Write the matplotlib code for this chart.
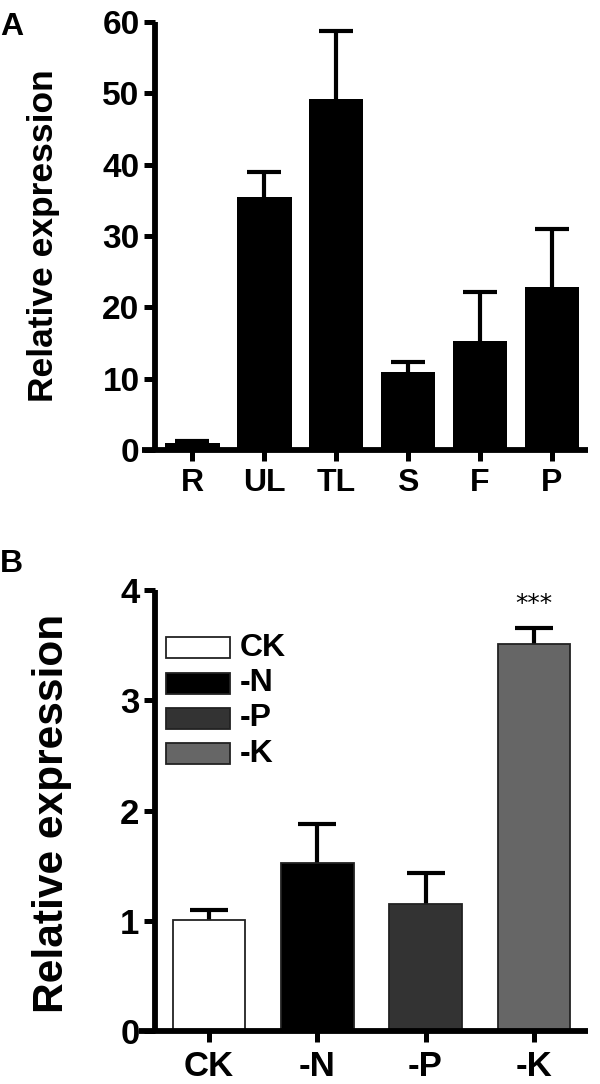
import numpy as np
import matplotlib.pyplot as plt
from matplotlib.patches import Rectangle

plt.rcParams['font.family'] = ['Liberation Sans', 'DejaVu Sans']
plt.rcParams['font.weight'] = 'bold'

# Panel A data
tissues = ['R', 'UL', 'TL', 'S', 'F', 'P']
tissueMean = [1.0, 35.5, 49.2, 11.0, 15.3, 22.8]
tissueErr = [0.3, 3.5, 9.6, 1.4, 6.9, 8.2]

# Panel B data
treatments = ['CK', '-N', '-P', '-K']
treatMean = [1.01, 1.52, 1.15, 3.51]
treatErr = [0.09, 0.355, 0.28, 0.15]
treatColors = ['white', 'black', '#333333', '#666666']

lw = 4.2

def styleAxes(ax, xlab_size, ylab_size, xpad):
    for side in ['top', 'right']:
        ax.spines[side].set_visible(False)
    for side in ['left', 'bottom']:
        ax.spines[side].set_linewidth(lw)
        ax.spines[side].set_capstyle('butt')
    ax.tick_params(axis='both', width=3.6, length=8, direction='out', pad=3)
    ax.tick_params(axis='x', labelsize=xlab_size, pad=xpad)
    ax.tick_params(axis='y', labelsize=ylab_size)
    for lab in ax.get_xticklabels() + ax.get_yticklabels():
        lab.set_fontweight('bold')

def upperErr(ax, x, mean, err, capsize):
    # only the upper half of the error bar, lower cap dropped
    eb = ax.errorbar(x, mean, yerr=[np.zeros(len(x)), err], fmt='none',
                     ecolor='black', elinewidth=3, capsize=capsize, capthick=3, zorder=1)
    eb[1][0].remove()
    return eb

fig = plt.figure(figsize=(6, 10.84), dpi=100)

# Panel A
axA = fig.add_axes([0.258, 0.5849, 0.722, 0.3948])
x = np.arange(len(tissues))
upperErr(axA, x, tissueMean, tissueErr, 12)
axA.bar(x, tissueMean, width=0.76, color='black', zorder=2)
axA.set_xlim(-0.52, 5.5)
axA.set_ylim(0, 60)
axA.set_yticks(np.arange(0, 61, 10))
axA.set_xticks(x)
axA.set_xticklabels(tissues)
axA.spines['bottom'].set_bounds(-0.52 - 13 / 72, 5.5)
axA.set_ylabel('Relative expression', fontsize=25.5, fontweight='bold')
axA.yaxis.set_label_coords(-0.219, 0.5)
styleAxes(axA, 23, 24, 5)
fig.text(0.0, 0.9677, 'A', fontsize=23, fontweight='bold')

# Panel B
axB = fig.add_axes([0.258, 0.0489, 0.722, 0.4068])
x2 = np.arange(len(treatments))
upperErr(axB, x2, treatMean, treatErr, 14)
axB.bar(x2, treatMean, width=0.67, color=treatColors, edgecolor='#222222',
        linewidth=1.3, zorder=2)
axB.text(x2[3], treatMean[3] + treatErr[3] + 0.1, '***', ha='center', va='bottom',
         fontsize=18, fontweight='normal', family='DejaVu Sans')
axB.set_xlim(-0.5, 3.5)
axB.set_ylim(0, 4)
axB.set_yticks(np.arange(0, 5, 1))
axB.set_xticks(x2)
axB.set_xticklabels(treatments)
axB.spines['bottom'].set_bounds(-0.5 - 16 / 110, 3.5)
axB.set_ylabel('Relative expression', fontsize=30.5, fontweight='bold')
axB.yaxis.set_label_coords(-0.19, 0.494)
styleAxes(axB, 25, 25, 6)

# legend drawn as boxes + labels in axes coordinates
for i, (lab, col) in enumerate(zip(treatments, treatColors)):
    yb = 0.845 - i * 0.08
    axB.add_patch(Rectangle((0.025, yb), 0.148, 0.0475, transform=axB.transAxes,
                            facecolor=col, edgecolor='#222222', linewidth=1.3))
    axB.text(0.195, yb + 0.0237, lab, transform=axB.transAxes, fontsize=23,
             fontweight='bold', va='center', ha='left')
fig.text(0.0, 0.4725, 'B', fontsize=23, fontweight='bold')

fig.savefig('out.png', dpi=100)
